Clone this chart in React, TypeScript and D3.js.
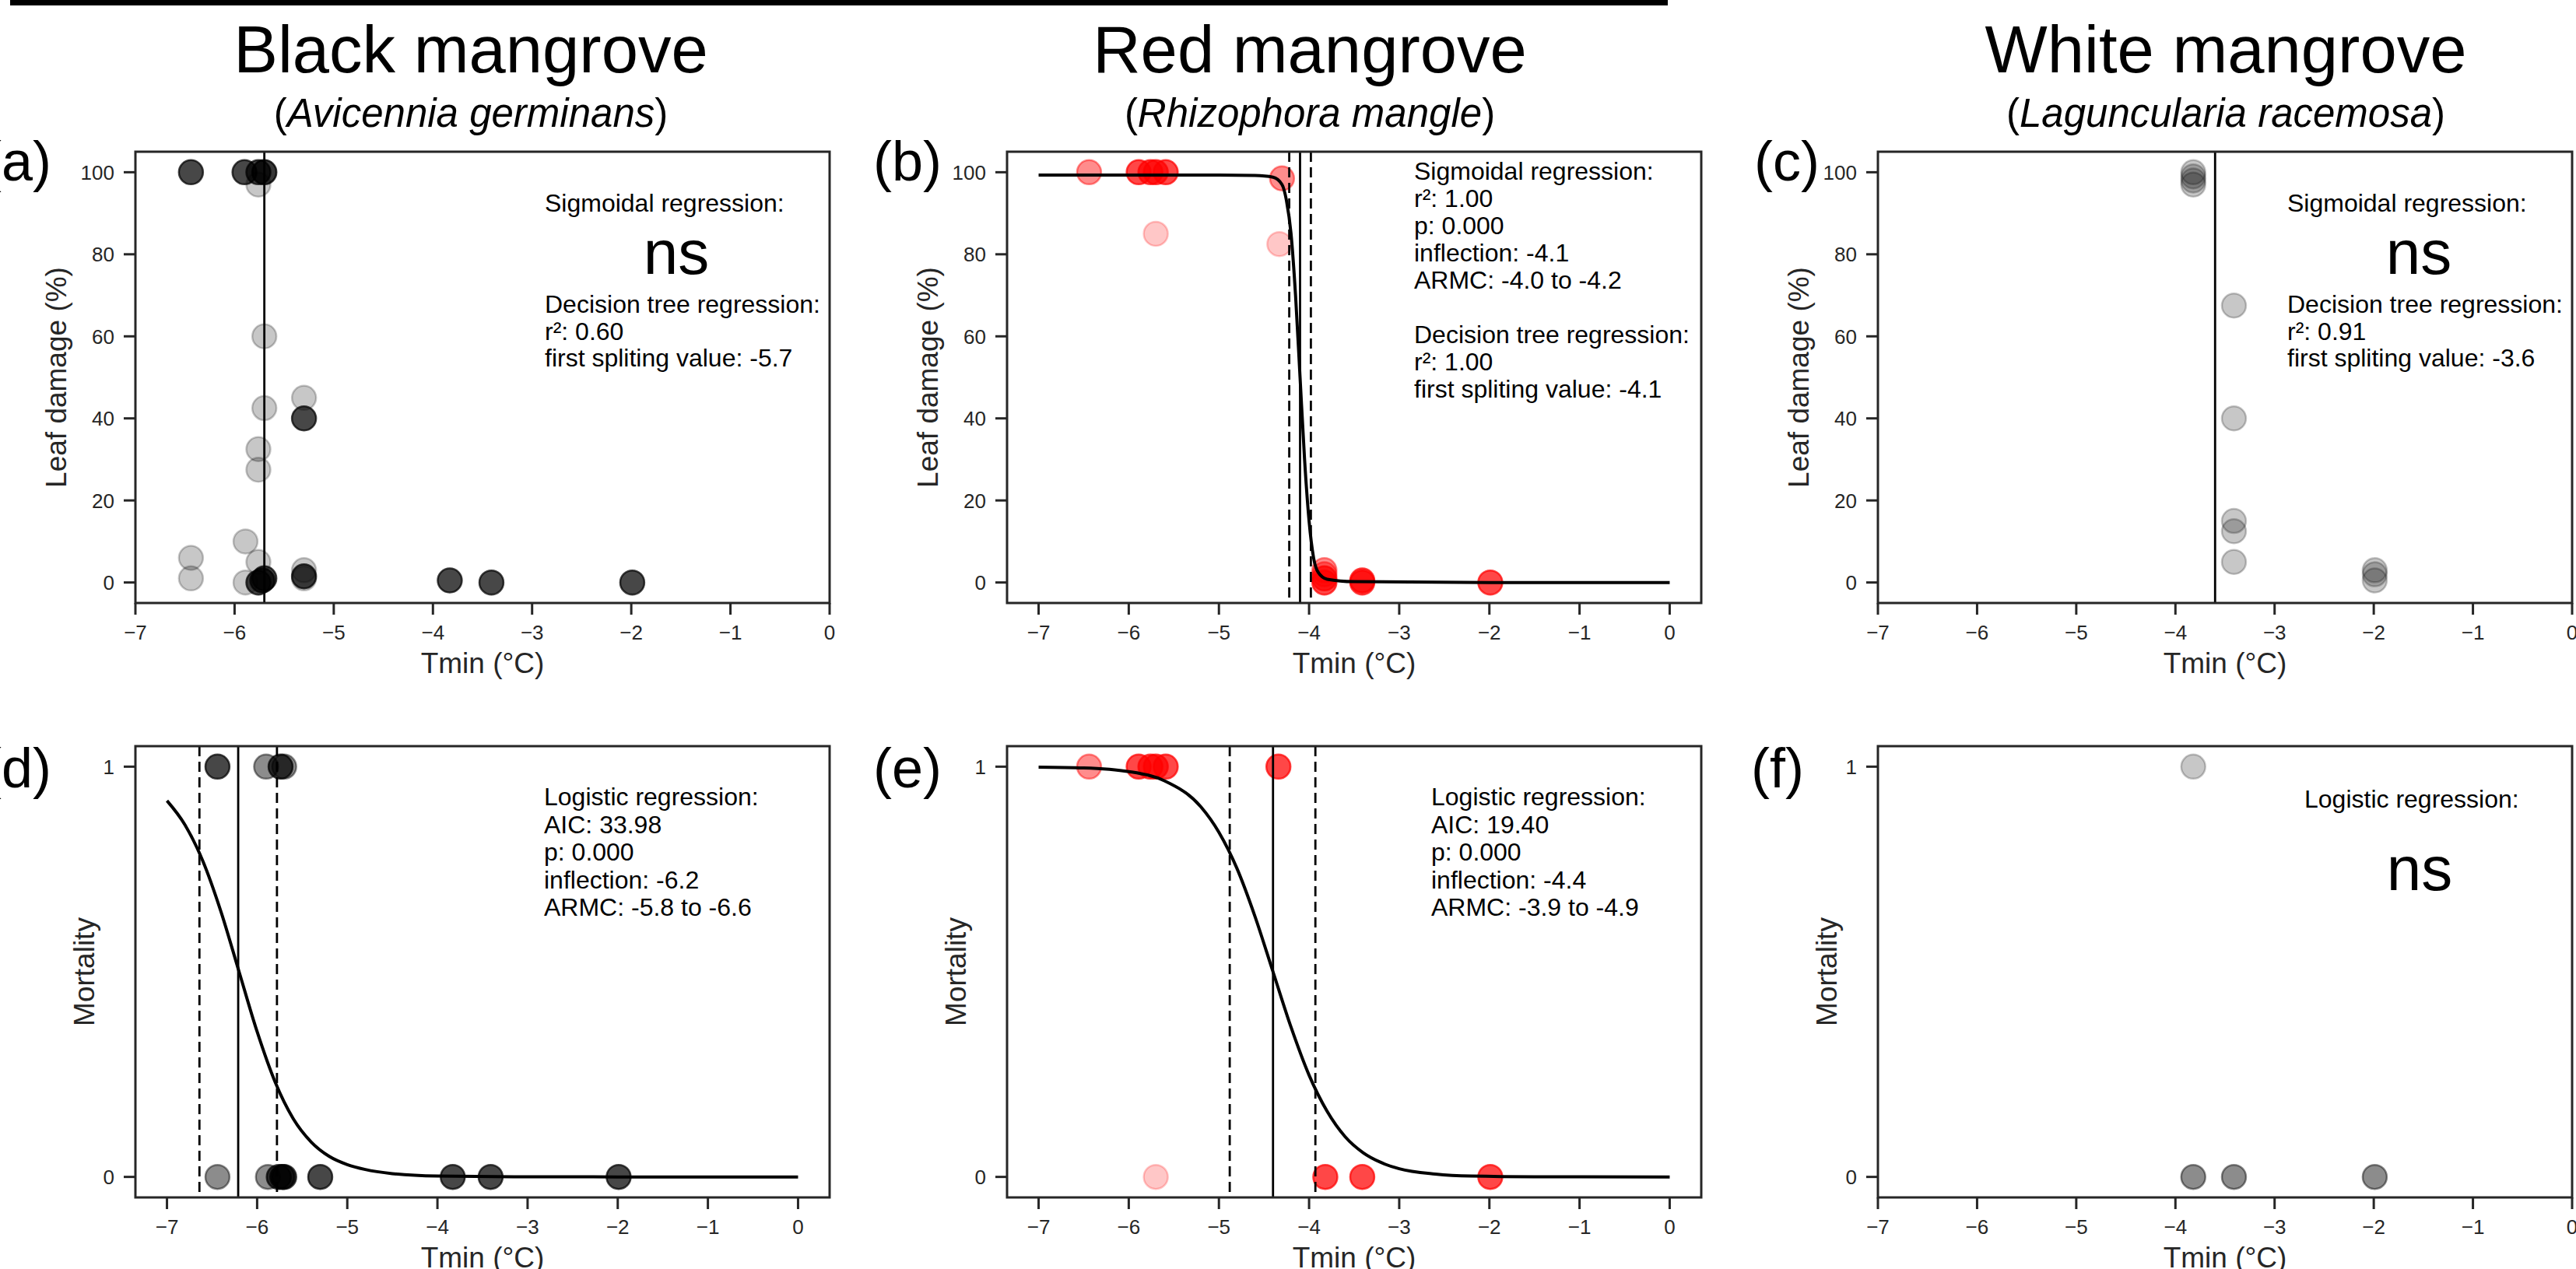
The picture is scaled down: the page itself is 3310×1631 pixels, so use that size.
import * as d3 from "d3";

const W = 3310;
const H = 1631;
const FONT = "'Liberation Sans', Arial, Helvetica, sans-serif";
const INK = "#262626";

const T_TICKS = [-7, -6, -5, -4, -3, -2, -1, 0];
const LEAF_TICKS = [0, 20, 40, 60, 80, 100];
const MORT_TICKS = [0, 1];

// [Tmin (°C), value, shade group 1..3]
const blackLeaf: [number, number, number][] = [
  [-6.44, 100, 3], [-5.9, 100, 3], [-5.76, 100, 3], [-5.7, 100, 3], [-5.7, 100, 1],
  [-5.76, 97, 1], [-5.7, 60, 1], [-5.3, 45, 1], [-5.7, 42.5, 1], [-5.3, 40, 3],
  [-5.76, 32.5, 1], [-5.76, 27.5, 1], [-5.89, 10, 1], [-6.44, 6, 1], [-6.44, 1, 1],
  [-5.76, 5, 1], [-5.89, 0, 1], [-5.3, 3, 1], [-5.3, 1, 1], [-5.3, 1.5, 3],
  [-5.76, 0, 3], [-5.72, 0.5, 3], [-5.7, 1, 3], [-3.83, 0.5, 3], [-3.41, 0, 3], [-1.99, 0, 3],
];
const redLeaf: [number, number, number][] = [
  [-6.44, 100, 2], [-5.89, 100, 3], [-5.76, 100, 3], [-5.7, 100, 3], [-5.59, 100, 3],
  [-5.7, 85, 1], [-4.3, 98.5, 2], [-4.33, 82.5, 1],
  [-3.83, 0, 3], [-3.83, 1, 3], [-3.83, 2, 2], [-3.83, 3, 2], [-3.41, 0, 3], [-3.41, 0.5, 3], [-1.99, 0, 3],
];
const whiteLeaf: [number, number, number][] = [
  [-3.82, 100, 1], [-3.82, 99, 1], [-3.82, 98, 1], [-3.82, 97, 1],
  [-3.41, 67.5, 1], [-3.41, 40, 1], [-3.41, 15, 1], [-3.41, 12.5, 1], [-3.41, 5, 1],
  [-1.99, 3, 1], [-1.99, 2, 1], [-1.99, 0.5, 1],
];
const blackMort: [number, number, number][] = [
  [-6.44, 1, 3], [-5.9, 1, 2], [-5.74, 1, 3], [-5.7, 1, 2],
  [-6.44, 0, 2], [-5.88, 0, 2], [-5.76, 0, 3], [-5.72, 0, 3], [-5.7, 0, 3],
  [-5.3, 0, 3], [-3.83, 0, 3], [-3.41, 0, 3], [-1.99, 0, 3],
];
const redMort: [number, number, number][] = [
  [-6.44, 1, 2], [-5.89, 1, 3], [-5.76, 1, 3], [-5.7, 1, 3], [-5.59, 1, 3], [-4.34, 1, 3],
  [-5.7, 0, 1], [-3.82, 0, 3], [-3.41, 0, 3], [-1.99, 0, 3],
];
const whiteMort: [number, number, number][] = [
  [-3.82, 1, 1], [-3.82, 0, 2], [-3.41, 0, 2], [-1.99, 0, 2],
];

// fitted curves
const redLeafCurve: [number, number][] = [
  [-7, 99.3], [-5, 99.3], [-4.6, 99.2], [-4.4, 98.8], [-4.3, 97], [-4.25, 93], [-4.2, 85],
  [-4.15, 70], [-4.1, 50], [-4.05, 30], [-4.0, 15], [-3.95, 6], [-3.9, 2.5], [-3.8, 0.8],
  [-3.5, 0.2], [-2, 0], [0, 0],
];
const blackMortCurve: [number, number][] = [
  [-7, 0.917], [-6.8, 0.858], [-6.6, 0.769], [-6.4, 0.646], [-6.2, 0.5], [-6.0, 0.354],
  [-5.8, 0.231], [-5.6, 0.142], [-5.4, 0.085], [-5.2, 0.05], [-5.0, 0.03], [-4.8, 0.018],
  [-4.5, 0.008], [-4.0, 0.002], [-3.0, 0.0002], [-2.0, 0], [0, 0],
];
const redMortCurve: [number, number][] = [
  [-7, 0.999], [-6.5, 0.997], [-6, 0.988], [-5.6, 0.965], [-5.2, 0.902], [-5.0, 0.84],
  [-4.8, 0.752], [-4.6, 0.635], [-4.4, 0.5], [-4.2, 0.365], [-4.0, 0.248], [-3.8, 0.16],
  [-3.6, 0.098], [-3.4, 0.059], [-3.2, 0.035], [-3.0, 0.02], [-2.6, 0.007], [-2.2, 0.002],
  [-1.5, 0.0003], [0, 0],
];

const blackLeafNotes = ["Decision tree regression:", "r\u00b2: 0.60", "first spliting value: -5.7"];
const redLeafNotes = [
  "Sigmoidal regression:", "r\u00b2: 1.00", "p: 0.000", "inflection: -4.1", "ARMC: -4.0 to -4.2", "",
  "Decision tree regression:", "r\u00b2: 1.00", "first spliting value: -4.1",
];
const whiteLeafNotes = ["Decision tree regression:", "r\u00b2: 0.91", "first spliting value: -3.6"];
const blackMortNotes = ["Logistic regression:", "AIC: 33.98", "p: 0.000", "inflection: -6.2", "ARMC: -5.8 to -6.6"];
const redMortNotes = ["Logistic regression:", "AIC: 19.40", "p: 0.000", "inflection: -4.4", "ARMC: -3.9 to -4.9"];

const BOX_W = 892;
const BOX_H = 580;
const COL_LEFT = [174, 1294, 2413];
const ROW_TOP = [195, 959];
const NARROW: [number, number] = [-7, 0];
const WIDE: [number, number] = [-7.35, 0.35];

const fmt = (d: number) => (d < 0 ? "\u2212" + Math.abs(d) : String(d));

const ALPHA: Record<number, number> = { 1: 0.22, 2: 0.45, 3: 0.72 };

type PanelProps = {
  id: string;
  col: number;
  row: number;
  xlim: [number, number];
  leaf: boolean;
  points: [number, number, number][];
  color: string;
  curve?: [number, number][];
  vlines: { x: number; dashed?: boolean }[];
  letter: string;
  letterX: number;
  children?: (left: number, top: number) => React.ReactNode;
};

function Panel({ id, col, row, xlim, leaf, points, color, curve, vlines, letter, letterX, children }: PanelProps) {
  const left = COL_LEFT[col];
  const top = ROW_TOP[row];
  const x = d3.scaleLinear().domain(xlim).range([left, left + BOX_W]);
  const y = d3
    .scaleLinear()
    .domain(leaf ? [-5, 105] : [-0.05, 1.05])
    .range([top + BOX_H, top]);
  const yTicks = leaf ? LEAF_TICKS : MORT_TICKS;
  const line = d3
    .line<[number, number]>()
    .x((d) => x(d[0]))
    .y((d) => y(d[1]))
    .curve(d3.curveMonotoneX);
  const bottom = top + BOX_H;
  return (
    <g>
      <defs>
        <clipPath id={id}>
          <rect x={left} y={top} width={BOX_W} height={BOX_H} />
        </clipPath>
      </defs>
      <g clipPath={`url(#${id})`}>
        {points.map((p, i) => (
          <circle
            key={i}
            cx={x(p[0])}
            cy={y(p[1])}
            r={15.5}
            fill={color}
            fillOpacity={ALPHA[p[2]]}
            stroke={color}
            strokeOpacity={ALPHA[p[2]]}
            strokeWidth={2.5}
          />
        ))}
        {vlines.map((v, i) => (
          <line
            key={i}
            x1={x(v.x)}
            x2={x(v.x)}
            y1={top}
            y2={bottom}
            stroke="#000"
            strokeWidth={2.8}
            strokeDasharray={v.dashed ? "13,7" : undefined}
          />
        ))}
        {curve && <path d={line(curve) ?? ""} fill="none" stroke="#000" strokeWidth={4} />}
      </g>
      <rect x={left} y={top} width={BOX_W} height={BOX_H} fill="none" stroke={INK} strokeWidth={3} />
      {T_TICKS.map((t) => (
        <g key={t}>
          <line x1={x(t)} x2={x(t)} y1={bottom} y2={bottom + 15} stroke={INK} strokeWidth={3} />
          <text x={x(t)} y={bottom + 47} textAnchor="middle" fontSize={26} fill={INK}>
            {fmt(t)}
          </text>
        </g>
      ))}
      {yTicks.map((t) => (
        <g key={t}>
          <line x1={left - 15} x2={left} y1={y(t)} y2={y(t)} stroke={INK} strokeWidth={3} />
          <text x={left - 27} y={y(t) + 9.5} textAnchor="end" fontSize={26} fill={INK}>
            {fmt(t)}
          </text>
        </g>
      ))}
      <text x={left + BOX_W / 2} y={bottom + 90} textAnchor="middle" fontSize={37} fill={INK}>
        Tmin (°C)
      </text>
      <text
        transform={`translate(${left - (leaf ? 89 : 53)},${top + BOX_H / 2}) rotate(-90)`}
        textAnchor="middle"
        fontSize={37}
        fill={INK}
      >
        {leaf ? "Leaf damage (%)" : "Mortality"}
      </text>
      <text x={letterX} y={top + (row === 0 ? 37 : 53)} fontSize={72} fill="#000">
        {letter}
      </text>
      {children && children(left, top)}
    </g>
  );
}

function Lines({ x, y, lines, step }: { x: number; y: number; lines: string[]; step: number }) {
  return (
    <g>
      {lines.map((l, i) => (
        <text key={i} x={x} y={y + i * step} fontSize={32} fill="#000">
          {l}
        </text>
      ))}
    </g>
  );
}

function Title({ cx, name, latin }: { cx: number; name: string; latin: string }) {
  return (
    <g>
      <text x={cx} y={93} textAnchor="middle" fontSize={85} fill="#000">
        {name}
      </text>
      <text x={cx} y={163} textAnchor="middle" fontSize={51} fill="#000">
        (<tspan fontStyle="italic">{latin}</tspan>)
      </text>
    </g>
  );
}

export default function App() {
  return (
    <svg
      width={W}
      height={H}
      viewBox={`0 0 ${W} ${H}`}
      style={{ position: "absolute", left: 0, top: 0, background: "#fff" }}
      fontFamily={FONT}
    >
      <rect x={0} y={0} width={W} height={H} fill="#fff" />
      <rect x={13} y={0} width={2130} height={7} fill="#000" />

      <Title cx={605} name="Black mangrove" latin="Avicennia germinans" />
      <Title cx={1683} name="Red mangrove" latin="Rhizophora mangle" />
      <Title cx={2860} name="White mangrove" latin="Laguncularia racemosa" />

      <Panel id="pa" col={0} row={0} xlim={NARROW} leaf points={blackLeaf} color="#000"
        vlines={[{ x: -5.7 }]} letter="(a)" letterX={-22}>
        {(l, t) => (
          <g>
            <text x={l + 526} y={t + 77} fontSize={32}>Sigmoidal regression:</text>
            <text x={l + 695} y={t + 157} fontSize={80} textAnchor="middle">ns</text>
            <Lines x={l + 526} y={t + 207} lines={blackLeafNotes} step={34.5} />
          </g>
        )}
      </Panel>

      <Panel id="pb" col={1} row={0} xlim={WIDE} leaf points={redLeaf} color="#ff0000"
        curve={redLeafCurve}
        vlines={[{ x: -4.22, dashed: true }, { x: -4.1 }, { x: -3.98, dashed: true }]}
        letter="(b)" letterX={1122}>
        {(l, t) => <Lines x={l + 523} y={t + 36} lines={redLeafNotes} step={35} />}
      </Panel>

      <Panel id="pc" col={2} row={0} xlim={NARROW} leaf points={whiteLeaf} color="#000"
        vlines={[{ x: -3.6 }]} letter="(c)" letterX={2254}>
        {(l, t) => (
          <g>
            <text x={l + 526} y={t + 77} fontSize={32}>Sigmoidal regression:</text>
            <text x={l + 695} y={t + 157} fontSize={80} textAnchor="middle">ns</text>
            <Lines x={l + 526} y={t + 207} lines={whiteLeafNotes} step={34.5} />
          </g>
        )}
      </Panel>

      <Panel id="pd" col={0} row={1} xlim={WIDE} leaf={false} points={blackMort} color="#000"
        curve={blackMortCurve}
        vlines={[{ x: -6.64, dashed: true }, { x: -6.21 }, { x: -5.78, dashed: true }]}
        letter="(d)" letterX={-22}>
        {(l, t) => <Lines x={l + 525} y={t + 76} lines={blackMortNotes} step={35.5} />}
      </Panel>

      <Panel id="pe" col={1} row={1} xlim={WIDE} leaf={false} points={redMort} color="#ff0000"
        curve={redMortCurve}
        vlines={[{ x: -4.88, dashed: true }, { x: -4.4 }, { x: -3.93, dashed: true }]}
        letter="(e)" letterX={1122}>
        {(l, t) => <Lines x={l + 545} y={t + 76} lines={redMortNotes} step={35.5} />}
      </Panel>

      <Panel id="pf" col={2} row={1} xlim={NARROW} leaf={false} points={whiteMort} color="#000"
        vlines={[]} letter="(f)" letterX={2250}>
        {(l, t) => (
          <g>
            <text x={l + 548} y={t + 79} fontSize={32}>Logistic regression:</text>
            <text x={l + 696} y={t + 185} fontSize={80} textAnchor="middle">ns</text>
          </g>
        )}
      </Panel>
    </svg>
  );
}
